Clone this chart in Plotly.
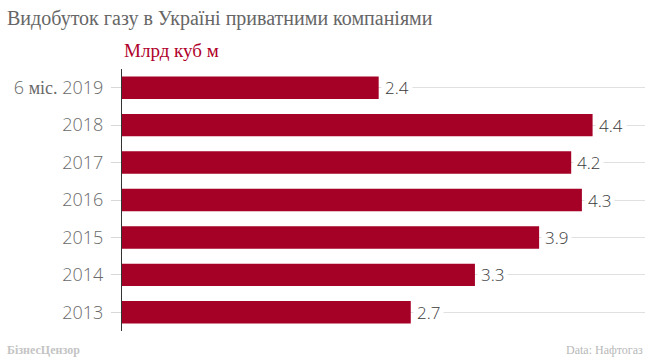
import plotly.graph_objects as go

categories = ["6 міс. 2019", "2018", "2017", "2016", "2015", "2014", "2013"]
tick_labels = ['6 <span style="font-family:Liberation Serif">міс.</span> 2019', "2018", "2017", "2016", "2015", "2014", "2013"]
values = [2.4, 4.4, 4.2, 4.3, 3.9, 3.3, 2.7]
value_labels = ["2.4", "4.4", "4.2", "4.3", "3.9", "3.3", "2.7"]

W, H = 650, 359
L, R, T, B = 122, 5, 69, 28
PW, PH = W - L - R, H - T - B


def px(x):
    return (x - L) / PW


def py(y):
    return (H - B - y) / PH


fig = go.Figure()
fig.add_trace(go.Bar(
    x=values, y=categories, orientation="h",
    marker=dict(color="#a50026", line=dict(width=0)),
    width=0.6, hoverinfo="skip",
))

for i, (v, t) in enumerate(zip(values, value_labels)):
    fig.add_annotation(x=v, y=i, xref="x", yref="y", text=t, showarrow=False,
                       xanchor="left", yanchor="middle", xshift=2,
                       bgcolor="white", borderpad=3,
                       font=dict(family="Open Sans", size=17, color="#3a3a3a", weight=300))

fig.add_annotation(x=px(5), y=py(18), xref="paper", yref="paper", xanchor="left", yanchor="middle",
                   text="Видобуток газу в Україні приватними компаніями", showarrow=False,
                   font=dict(family="Liberation Serif", size=20, color="#666"))
fig.add_annotation(x=px(122), y=py(50), xref="paper", yref="paper", xanchor="left", yanchor="middle",
                   text="Млрд куб м", showarrow=False,
                   font=dict(family="Liberation Serif", size=19, color="#b0002a"))
fig.add_annotation(x=px(5), y=py(350), xref="paper", yref="paper", xanchor="left", yanchor="middle",
                   text="<b>БізнесЦензор</b>", showarrow=False,
                   font=dict(family="Liberation Serif", size=12, color="#c4c4c4"))
fig.add_annotation(x=px(645), y=py(350), xref="paper", yref="paper", xanchor="right", yanchor="middle",
                   text="Data: Нафтогаз", showarrow=False,
                   font=dict(family="Liberation Serif", size=12, color="#b8b8b8"))

fig.update_layout(
    width=W, height=H,
    margin=dict(l=L, r=R, t=T, b=B, autoexpand=False),
    paper_bgcolor="white", plot_bgcolor="white",
    showlegend=False,
    xaxis=dict(range=[0, 4.89], showgrid=False, zeroline=False, showticklabels=False,
               ticks="", showline=False, fixedrange=True, automargin=False),
    yaxis=dict(type="category", range=[6.5, -0.5], showgrid=True, gridcolor="#e0e0e0", gridwidth=1,
               ticks="outside", ticklen=10, tickcolor="#d8d8d8", ticklabelstandoff=4,
               showline=True, linecolor="#333", linewidth=1, automargin=False,
               tickmode="array", tickvals=categories, ticktext=tick_labels,
               tickfont=dict(family="Open Sans", size=18, color="#6a6a6a", weight=300), fixedrange=True),
)

fig.write_html("out.html", config={"displayModeBar": False},
               post_script="document.body.style.margin='0';document.body.style.overflow='hidden';")
